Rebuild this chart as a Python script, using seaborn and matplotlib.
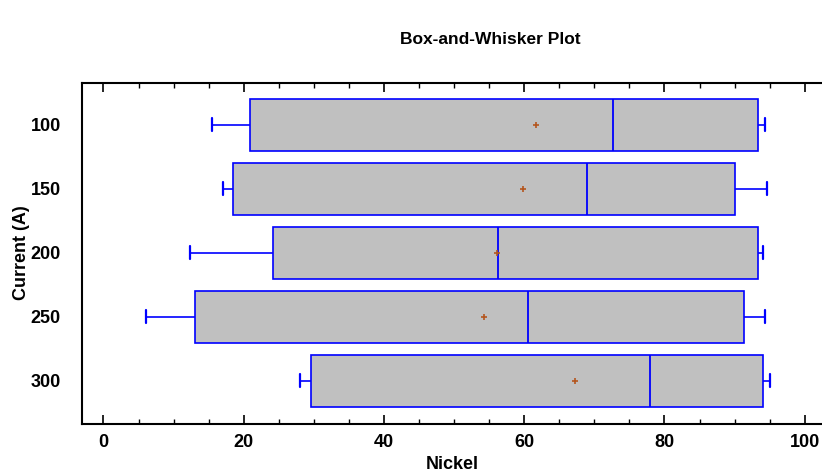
import numpy as np
import pandas as pd
import matplotlib
matplotlib.use("Agg")
import matplotlib.pyplot as plt
import seaborn as sns
from matplotlib.ticker import MultipleLocator

# ---- data ----
currents = ["100", "150", "200", "250", "300"]
whisker_low = [15.5, 17.0, 12.4, 6.0, 28.1]
q1 = [20.9, 18.5, 24.2, 13.1, 29.6]
median = [72.7, 69.0, 56.2, 60.6, 78.0]
q3 = [93.3, 90.0, 93.3, 91.4, 94.1]
whisker_high = [94.3, 94.6, 94.1, 94.3, 95.1]
means = [61.7, 59.8, 56.1, 54.3, 67.2]
x_ticks = [0, 20, 40, 60, 80, 100]

# build a long table holding each group's five-number summary
rows = []
for i, c in enumerate(currents):
    for v in (whisker_low[i], q1[i], median[i], q3[i], whisker_high[i]):
        rows.append({"Current (A)": c, "Nickel": v})
df = pd.DataFrame(rows)
df_mean = pd.DataFrame({"Current (A)": currents, "Nickel": means})

sns.set_theme(style="white")
plt.rcParams["font.family"] = ["Liberation Sans", "DejaVu Sans"]
plt.rcParams["font.weight"] = "bold"
plt.rcParams["text.color"] = "black"
plt.rcParams["axes.labelcolor"] = "black"
plt.rcParams["xtick.color"] = "black"
plt.rcParams["ytick.color"] = "black"

fig = plt.figure(figsize=(8.22, 4.74), dpi=100)
ax = fig.add_axes([81.7 / 822, 50 / 474, 1 - 81.7 / 822 + 0.002, (424 - 82.7) / 474])

blue = "#0000FF"
sns.boxplot(
    data=df, x="Nickel", y="Current (A)", order=currents, orient="h",
    whis=(0, 100), width=0.8125, color="#C0C0C0", ax=ax,
    showfliers=False, linewidth=1.2,
    boxprops=dict(facecolor="#C0C0C0", edgecolor=blue, linewidth=1.2),
    medianprops=dict(color=blue, linewidth=1.3),
    whiskerprops=dict(color=blue, linewidth=1.2),
    capprops=dict(color=blue, linewidth=1.6),
    capwidths=0.2,
)
sns.scatterplot(
    data=df_mean, x="Nickel", y="Current (A)", ax=ax, marker="+",
    s=16, color="#B4561E", linewidth=1.2, zorder=5, legend=False,
)

ax.set_xlim(-3.1, 102.7)
ax.set_ylim(4.677, -0.656)
ax.set_xticks(x_ticks)
ax.xaxis.set_minor_locator(MultipleLocator(5))
ax.tick_params(axis="x", which="major", direction="in", length=6.5, width=1.2,
               top=True, bottom=True, labelsize=13, pad=7, color="black",
               labelcolor="black")
ax.tick_params(axis="x", which="minor", direction="in", length=3.5, width=1.0,
               top=True, bottom=True, color="black")
ax.tick_params(axis="y", which="both", length=0, labelsize=13, pad=15,
               labelcolor="black")
for lab in ax.get_xticklabels() + ax.get_yticklabels():
    lab.set_fontweight("bold")

for side in ["left", "bottom", "top"]:
    ax.spines[side].set_visible(True)
    ax.spines[side].set_color("black")
    ax.spines[side].set_linewidth(1.5)
ax.spines["right"].set_visible(False)

ax.set_xlabel("Nickel", fontsize=13, fontweight="bold", labelpad=4, color="black")
ax.set_ylabel("")
fig.text(22 / 822, 1 - 253 / 474, "Current (A)", rotation=90, ha="center",
         va="center", fontsize=13, fontweight="bold", color="black")
fig.text(490 / 822, 1 - 40 / 474, "Box-and-Whisker Plot", ha="center",
         va="center", fontsize=12.5, fontweight="bold", color="black")

fig.savefig("out.png", dpi=100)
